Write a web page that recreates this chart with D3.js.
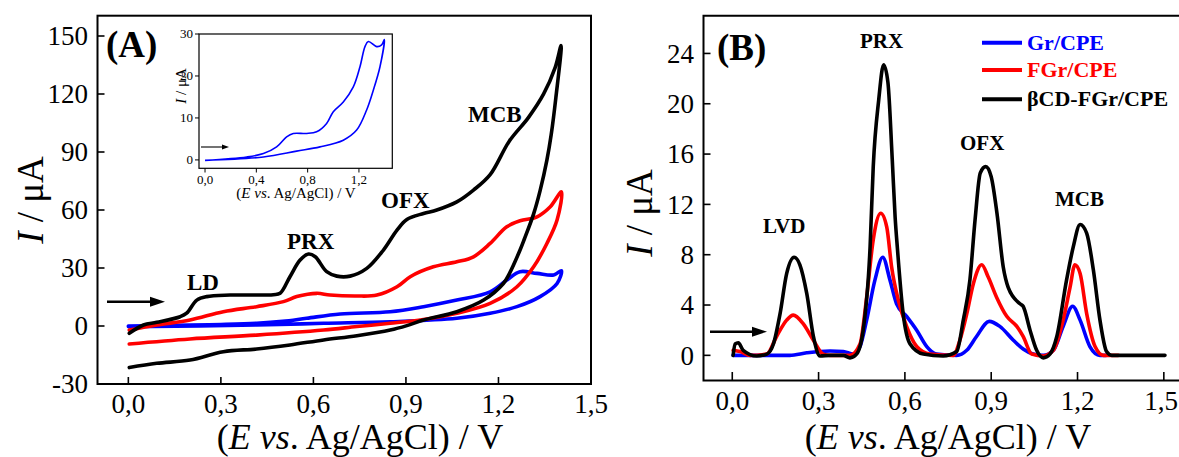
<!DOCTYPE html>
<html>
<head>
<meta charset="utf-8">
<script src="https://cdn.jsdelivr.net/npm/d3@7"></script>
<style>
html,body{margin:0;padding:0;background:#fff;}
svg{display:block;}
text{font-family:"Liberation Serif","Times New Roman",serif;fill:#000;}
</style>
</head>
<body>
<svg id="chart" width="1179" height="457"></svg>
<script>
// ---------------- Panel A: cyclic voltammograms ----------------
const cvBlueFwdE = [0, 0.2, 0.3, 0.416, 0.5, 0.578, 0.687, 0.849, 0.957, 1.065, 1.173, 1.227, 1.27, 1.325, 1.379, 1.404];
const cvBlueFwdI = [0, 0.5, 0.8, 1.4, 2.4, 4, 6.2, 7.4, 10, 13.4, 17.7, 23.8, 28.1, 27.2, 26.4, 28.6];
const cvBlueRevE = [1.404, 1.39, 1.335, 1.26, 1.173, 1.065, 0.849, 0.633, 0.416, 0];
const cvBlueRevI = [28.6, 22, 15.2, 10, 6.6, 4, 2.2, 1.4, 0.5, -0.3];

const cvRedFwdE = [0.003, 0.092, 0.2, 0.308, 0.416, 0.503, 0.546, 0.611, 0.654, 0.741, 0.806, 0.871, 0.914, 0.989, 1.065, 1.119, 1.173, 1.227, 1.27, 1.325, 1.368, 1.404];
const cvRedFwdI = [-2.1, 0.5, 3.1, 7.4, 10, 12.6, 15.2, 16.9, 16, 15.5, 16, 20.3, 25.5, 30.6, 33.2, 35.8, 42.7, 51.3, 54.4, 56.5, 61.7, 69.4];
const cvRedRevE = [1.404, 1.39, 1.357, 1.314, 1.26, 1.173, 1.065, 0.957, 0.849, 0.741, 0.633, 0.416, 0.2, 0.003];
const cvRedRevI = [69.4, 54.8, 42.7, 30.6, 20.3, 11.7, 6.6, 3.4, 1.4, -0.3, -2.1, -4.7, -6.7, -9.3];

const cvBlackFwdE = [0.003, 0.049, 0.092, 0.168, 0.189, 0.222, 0.254, 0.33, 0.47, 0.492, 0.524, 0.557, 0.584, 0.606, 0.643, 0.676, 0.719, 0.773, 0.827, 0.871, 0.903, 0.957, 1.0, 1.065, 1.119, 1.173, 1.235, 1.297, 1.346, 1.384, 1.403];
const cvBlackFwdI = [-3.8, 0.5, 1.9, 4.8, 6.6, 13.4, 15.2, 16, 16.2, 16.9, 25.5, 34.1, 37.2, 35.8, 28.1, 25.8, 25.8, 29.8, 39.3, 49.6, 55.1, 58.2, 60, 64.2, 70.3, 78.3, 95.6, 107.8, 119.9, 133.8, 145];
const cvBlackRevE = [1.403, 1.386, 1.371, 1.357, 1.335, 1.314, 1.284, 1.27, 1.235, 1.216, 1.152, 1.065, 0.957, 0.903, 0.849, 0.741, 0.633, 0.524, 0.416, 0.308, 0.2, 0.092, 0.003];
const cvBlackRevI = [145, 118, 99, 85.8, 70, 58, 45, 39.3, 27, 22, 13.4, 7.4, 3.1, 0.2, -2.1, -5, -7.2, -9.8, -11.9, -13.3, -17.6, -19.3, -21.5];

// inset (Gr/CPE alone)
const insetFwdE = [0, 0.325, 0.455, 0.558, 0.636, 0.688, 0.792, 0.87, 0.948, 1.0, 1.078, 1.156, 1.208, 1.247, 1.273, 1.338, 1.377, 1.398];
const insetFwdI = [-0.1, 0.7, 1.5, 3.1, 5.5, 6.3, 6.3, 6.7, 8.7, 11.5, 13.8, 17.4, 22.2, 27, 28.2, 27, 27.4, 28.7];
const insetRevE = [1.398, 1.364, 1.312, 1.26, 1.182, 1.078, 0.896, 0.714, 0.455, 0];
const insetRevI = [28.7, 22.2, 16.6, 11.9, 7.1, 4.7, 3.1, 2.1, 0.7, -0.1];

const aXTicks = [0, 0.3, 0.6, 0.9, 1.2, 1.5];
const aYTicks = [-30, 0, 30, 60, 90, 120, 150];
const insetXTicks = [0, 0.4, 0.8, 1.2];
const insetYTicks = [0, 10, 20, 30];
const aPeakNames = ["LD", "PRX", "OFX", "MCB"];

// ---------------- Panel B: DPV ----------------
const dpvBlueE = [0.003, 0.2, 0.259, 0.34, 0.386, 0.421, 0.444, 0.467, 0.496, 0.523, 0.548, 0.571, 0.606, 0.641, 0.676, 0.71, 0.78, 0.815, 0.849, 0.893, 0.93, 0.977, 1.011, 1.046, 1.081, 1.116, 1.15, 1.183, 1.209, 1.243, 1.278, 1.3];
const dpvBlueI = [0, 0, 0.2, 0.35, 0.3, 0.1, 0.7, 2.8, 6.0, 7.8, 6.0, 4.1, 3.1, 2.0, 0.7, 0.1, 0, 0.4, 1.5, 2.7, 2.3, 1.2, 0.5, 0.1, 0, 0.4, 2.3, 3.9, 2.8, 0.7, 0, 0];

const dpvRedE = [0.003, 0.027, 0.062, 0.12, 0.154, 0.189, 0.212, 0.247, 0.282, 0.316, 0.34, 0.409, 0.444, 0.467, 0.49, 0.516, 0.537, 0.554, 0.577, 0.606, 0.641, 0.687, 0.768, 0.791, 0.815, 0.838, 0.867, 0.89, 0.919, 0.954, 0.989, 1.011, 1.041, 1.081, 1.116, 1.15, 1.174, 1.191, 1.209, 1.232, 1.261, 1.29, 1.342];
const dpvRedI = [0.4, 0.3, 0, 0.1, 1.5, 2.8, 3.2, 2.5, 1.2, 0.1, 0, 0, 0.9, 4.6, 9.2, 11.3, 10.2, 7.0, 4.4, 2.3, 0.7, 0.1, 0, 1.2, 3.3, 5.7, 7.2, 6.2, 4.6, 3.1, 2.3, 1.5, 0.1, -0.05, 0.4, 2.8, 5.4, 7.2, 6.5, 3.3, 0.7, 0, 0];

const dpvBlackE = [0.003, 0.01, 0.021, 0.038, 0.085, 0.12, 0.143, 0.166, 0.189, 0.215, 0.235, 0.259, 0.282, 0.305, 0.34, 0.386, 0.409, 0.432, 0.455, 0.479, 0.49, 0.509, 0.526, 0.541, 0.556, 0.566, 0.574, 0.594, 0.618, 0.664, 0.733, 0.78, 0.803, 0.826, 0.844, 0.862, 0.881, 0.9, 0.92, 0.942, 0.959, 1.0, 1.011, 1.035, 1.058, 1.081, 1.104, 1.128, 1.162, 1.185, 1.209, 1.232, 1.255, 1.278, 1.301, 1.319, 1.504];
const dpvBlackI = [0, 0.9, 1.0, 0.4, -0.05, 0.1, 0.9, 3.3, 6.5, 7.8, 7.2, 4.9, 1.5, -0.05, 0, 0, -0.2, 0.1, 2.0, 8.6, 15, 20.3, 23.1, 21.7, 15.6, 11.0, 8.5, 3.3, 0.9, 0.1, -0.05, 0.3, 2.8, 6.0, 10.8, 14.5, 15.0, 14.2, 11.3, 7.0, 5.4, 4.1, 3.9, 2.0, 0.4, -0.2, 0.1, 1.5, 6.0, 8.6, 10.4, 9.7, 6.8, 2.8, 0.3, 0, 0];

const bXTicks = [0, 0.3, 0.6, 0.9, 1.2, 1.5];
const bYTicks = [0, 4, 8, 12, 16, 20, 24];
const bPeakNames = ["LVD", "PRX", "OFX", "MCB"];
const legendNames = ["Gr/CPE", "FGr/CPE", "βCD-FGr/CPE"];
const seriesColors = ["#0000ff", "#ff0000", "#000000"];

// ---------------- drawing ----------------
const svg = d3.select("#chart");
const zip = (E, I) => E.map((e, i) => [e, I[i]]);
const fmt = v => String(v.toFixed(1)).replace(".", ",");

// Panel A scales
const ax = d3.scaleLinear().domain([-0.1, 1.5]).range([97.5, 591]);
const ay = d3.scaleLinear().domain([-30, 160.5]).range([384, 15.7]);
const gA = svg.append("g");

const cvLine = d3.line().x(d => ax(d[0])).y(d => ay(d[1])).curve(d3.curveCatmullRom.alpha(0.5));
const cvSets = [
  [cvBlueFwdE, cvBlueFwdI, cvBlueRevE, cvBlueRevI],
  [cvRedFwdE, cvRedFwdI, cvRedRevE, cvRedRevI],
  [cvBlackFwdE, cvBlackFwdI, cvBlackRevE, cvBlackRevI]
];
cvSets.forEach((s, k) => {
  const pts = zip(s[0], s[1]).concat(zip(s[2], s[3]).slice(1));
  gA.append("path").attr("d", cvLine(pts)).attr("fill", "none")
    .attr("stroke", seriesColors[k]).attr("stroke-width", 3.6)
    .attr("stroke-linejoin", "round").attr("stroke-linecap", "round");
});

// Frame A
gA.append("rect").attr("x", 97.5).attr("y", 15.7).attr("width", 591 - 97.5).attr("height", 384 - 15.7)
  .attr("fill", "none").attr("stroke", "#000").attr("stroke-width", 2);
// ticks A (inward)
aXTicks.forEach(t => {
  gA.append("line").attr("x1", ax(t)).attr("x2", ax(t)).attr("y1", 384).attr("y2", 377).attr("stroke", "#000").attr("stroke-width", 1.6);
  gA.append("text").attr("x", ax(t)).attr("y", 413).attr("text-anchor", "middle").attr("font-size", 27).text(fmt(t));
});
aYTicks.forEach(t => {
  gA.append("line").attr("x1", 97.5).attr("x2", 104.5).attr("y1", ay(t)).attr("y2", ay(t)).attr("stroke", "#000").attr("stroke-width", 1.6);
  gA.append("text").attr("x", 88).attr("y", ay(t)).attr("dy", "0.34em").attr("text-anchor", "end").attr("font-size", 27).text(t);
});

// Axis titles
function yTitle(g, x, y, size) {
  const t = g.append("text").attr("transform", `translate(${x},${y}) rotate(-90)`).attr("text-anchor", "middle").attr("font-size", size);
  t.append("tspan").attr("font-style", "italic").text("I");
  t.append("tspan").text(" / μA");
}
function xTitle(g, x, y, size) {
  const t = g.append("text").attr("x", x).attr("y", y).attr("text-anchor", "middle").attr("font-size", size);
  t.append("tspan").text("(");
  t.append("tspan").attr("font-style", "italic").text("E vs");
  t.append("tspan").text(". Ag/AgCl) / V");
}
yTitle(gA, 43, 200, 37);
xTitle(gA, 360, 448.5, 36);

// Panel label and peak labels A
gA.append("text").attr("x", 106).attr("y", 57).attr("font-size", 37).attr("font-weight", "bold").text("(A)");
const aPeakPos = [[187, 290], [287, 249], [381, 208], [468, 122]];
aPeakNames.forEach((n, i) => {
  gA.append("text").attr("x", aPeakPos[i][0]).attr("y", aPeakPos[i][1]).attr("font-size", 23).attr("font-weight", "bold").text(n);
});

// arrows
function arrow(g, x1, x2, y, w, hl, hw) {
  g.append("line").attr("x1", x1).attr("x2", x2 - hl + 1).attr("y1", y).attr("y2", y).attr("stroke", "#000").attr("stroke-width", w);
  g.append("path").attr("d", `M${x2},${y} L${x2 - hl},${y - hw / 2} L${x2 - hl},${y + hw / 2} Z`).attr("fill", "#000");
}
arrow(gA, 107, 165, 301.7, 2.6, 15, 10);

// Inset
const ix = d3.scaleLinear().domain([-0.047, 1.46]).range([199, 392.3]);
const iy = d3.scaleLinear().domain([-2, 30]).range([168.3, 34]);
const gI = svg.append("g");
gI.append("rect").attr("x", 199).attr("y", 34).attr("width", 392.3 - 199).attr("height", 168.3 - 34)
  .attr("fill", "#fff").attr("stroke", "#000").attr("stroke-width", 1.2);
const inLine = d3.line().x(d => ix(d[0])).y(d => iy(d[1])).curve(d3.curveCatmullRom.alpha(0.5));
gI.append("path").attr("d", inLine(zip(insetFwdE, insetFwdI).concat(zip(insetRevE, insetRevI).slice(1))))
  .attr("fill", "none").attr("stroke", "#0000ff").attr("stroke-width", 1.6);
insetXTicks.forEach(t => {
  gI.append("line").attr("x1", ix(t)).attr("x2", ix(t)).attr("y1", 168.3).attr("y2", 172.5).attr("stroke", "#000");
  gI.append("text").attr("x", ix(t)).attr("y", 184).attr("text-anchor", "middle").attr("font-size", 13).text(fmt(t));
});
insetYTicks.forEach(t => {
  gI.append("line").attr("x1", 199).attr("x2", 195).attr("y1", iy(t)).attr("y2", iy(t)).attr("stroke", "#000");
  gI.append("text").attr("x", 193).attr("y", iy(t)).attr("dy", "0.34em").attr("text-anchor", "end").attr("font-size", 13).text(t);
});
yTitle(gI, 186, 86, 15);
xTitle(gI, 296, 198, 15);
arrow(gI, 201, 229, 147, 1.1, 7, 5);

// Panel B scales
const bx = d3.scaleLinear().domain([-0.1, 1.6]).range([703.5, 1192.6]);
const by = d3.scaleLinear().domain([-2, 27]).range([380.5, 15.7]);
const gB = svg.append("g");
const dpvLine = d3.line().x(d => bx(d[0])).y(d => by(d[1])).curve(d3.curveMonotoneX);
[[dpvBlueE, dpvBlueI], [dpvRedE, dpvRedI], [dpvBlackE, dpvBlackI]].forEach((s, k) => {
  gB.append("path").attr("d", dpvLine(zip(s[0], s[1]))).attr("fill", "none")
    .attr("stroke", seriesColors[k]).attr("stroke-width", 3.6)
    .attr("stroke-linejoin", "round").attr("stroke-linecap", "round");
});
// frame B (right edge outside the picture)
gB.append("path").attr("d", `M1192.6,15.7 H703.5 V380.5 H1192.6`).attr("fill", "none").attr("stroke", "#000").attr("stroke-width", 2);
bXTicks.forEach(t => {
  gB.append("line").attr("x1", bx(t)).attr("x2", bx(t)).attr("y1", 380.5).attr("y2", 372).attr("stroke", "#000").attr("stroke-width", 1.6);
  gB.append("text").attr("x", Math.min(bx(t), 1161)).attr("y", 410).attr("text-anchor", "middle").attr("font-size", 27).text(fmt(t));
});
bYTicks.forEach(t => {
  gB.append("line").attr("x1", 703.5).attr("x2", 710.5).attr("y1", by(t)).attr("y2", by(t)).attr("stroke", "#000").attr("stroke-width", 1.6);
  gB.append("text").attr("x", 694).attr("y", by(t)).attr("dy", "0.34em").attr("text-anchor", "end").attr("font-size", 27).text(t);
});
yTitle(gB, 652, 213, 37);
xTitle(gB, 948, 448.5, 36);
gB.append("text").attr("x", 717).attr("y", 60).attr("font-size", 37).attr("font-weight", "bold").text("(B)");
const bPeakPos = [[763, 233], [860, 48], [960, 150], [1055, 206]];
bPeakNames.forEach((n, i) => {
  gB.append("text").attr("x", bPeakPos[i][0]).attr("y", bPeakPos[i][1]).attr("font-size", 21).attr("font-weight", "bold").text(n);
});
arrow(gB, 710, 767, 331.7, 2.6, 15, 10);

// Legend
const legY = [42.7, 70, 99.3];
legendNames.forEach((n, i) => {
  gB.append("line").attr("x1", 982).attr("x2", 1022).attr("y1", legY[i]).attr("y2", legY[i])
    .attr("stroke", seriesColors[i]).attr("stroke-width", 4);
  gB.append("text").attr("x", 1027).attr("y", legY[i] + 7).attr("font-size", 22).attr("font-weight", "bold")
    .style("fill", seriesColors[i]).text(n);
});
</script>
</body>
</html>
